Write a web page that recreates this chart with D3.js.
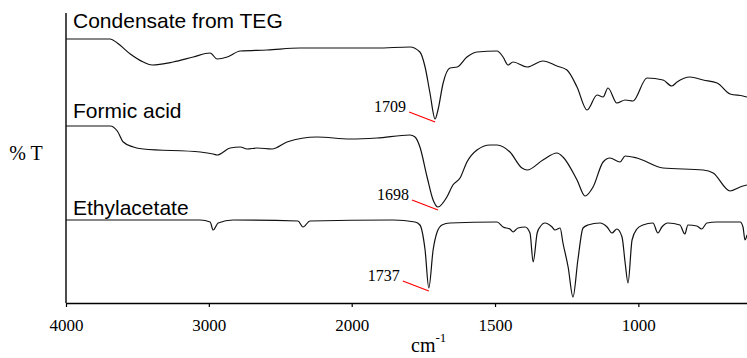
<!DOCTYPE html>
<html>
<head>
<meta charset="utf-8">
<script src="https://cdn.jsdelivr.net/npm/d3@7"></script>
<style>
  html, body { margin: 0; padding: 0; background: #fff; }
  svg { display: block; }
</style>
</head>
<body>
<svg id="chart" width="747" height="358"></svg>
<script>
// IR spectra: [wavenumber cm-1, transmittance (arbitrary, stacked)]
const condensate = [
  [4000, 264], [3690, 264], [3641, 260], [3550, 249], [3459, 241], [3397, 238],
  [3250, 241], [3109, 246], [2991, 250], [2942, 244], [2871, 246], [2780, 252],
  [2592, 253], [2362, 255], [2131, 255], [1912, 255], [1797, 256], [1762, 251],
  [1744, 236], [1727, 210], [1709, 184], [1699, 193], [1681, 220], [1657, 235],
  [1632, 236], [1598, 246], [1563, 251], [1493, 252], [1472, 246], [1455, 238],
  [1437, 241], [1388, 236], [1333, 242], [1284, 237], [1249, 233], [1214, 216],
  [1179, 193], [1144, 208], [1123, 206], [1106, 215], [1075, 200], [1046, 203],
  [1019, 202], [970, 225], [914, 223], [883, 217], [865, 221], [820, 226],
  [774, 223], [725, 220], [680, 209], [635, 207], [621, 206]
];
const formic = [
  [4000, 177], [3690, 177], [3641, 172], [3599, 161], [3529, 156], [3459, 154],
  [3060, 151], [2970, 149], [2942, 148], [2851, 155], [2780, 156], [2732, 154],
  [2662, 155], [2557, 154], [2453, 161], [2243, 166], [2012, 164], [1912, 165],
  [1797, 168], [1779, 166], [1762, 156], [1737, 126], [1716, 103], [1699, 96],
  [1668, 106], [1647, 118], [1622, 125], [1598, 141], [1563, 153], [1517, 158],
  [1493, 158], [1448, 151], [1406, 135], [1388, 133], [1333, 143], [1284, 150],
  [1263, 146], [1214, 123], [1186, 107], [1158, 116], [1123, 141], [1099, 145],
  [1064, 141], [1046, 147], [1005, 145], [914, 135], [774, 133], [739, 130],
  [680, 112], [645, 116], [621, 118]
];
const ethylacetate = [
  [4000, 83], [3061, 83], [2991, 81], [2970, 73], [2935, 80], [2830, 83],
  [2376, 82], [2341, 76], [2292, 82], [1856, 83], [1779, 81], [1762, 78],
  [1744, 53], [1731, 15], [1716, 53], [1702, 71], [1685, 78], [1657, 80],
  [1493, 81], [1472, 76], [1448, 74], [1437, 71], [1420, 75], [1395, 76],
  [1378, 70], [1367, 41], [1353, 70], [1343, 76], [1326, 80], [1301, 76],
  [1291, 73], [1273, 75], [1263, 60], [1245, 36], [1228, 6], [1211, 43],
  [1193, 75], [1176, 78], [1134, 80], [1109, 76], [1092, 70], [1075, 74],
  [1057, 66], [1046, 40], [1036, 20], [1022, 63], [1005, 74], [984, 78],
  [949, 80], [932, 70], [918, 76], [897, 80], [855, 78], [838, 69],
  [827, 78], [796, 77], [779, 74], [761, 80], [726, 81], [645, 81],
  [635, 76], [628, 63], [621, 68]
];

const seriesNames = ["Condensate from TEG", "Formic acid", "Ethylacetate"];
const seriesData = [condensate, formic, ethylacetate];
const labelLevels = [275, 185, 88];      // transmittance level of each series title

// peak annotations: [label, wavenumber, transmittance]
const peaks = [["1709", 1709, 184], ["1698", 1699, 96], ["1737", 1731, 15]];

const xTicks = [4000, 3000, 2000, 1500, 1000];

const svg = d3.select("#chart");
const W = 747, H = 358;
const margin = { left: 66, right: 0, top: 13, bottom: 55 };
const plotBottom = H - margin.bottom;
const serif = "'Liberation Serif', 'Times New Roman', serif";

// spectrum is expanded 2x below 2000 cm-1
const x = d3.scaleLinear().domain([4000, 2000, 621]).range([margin.left, 351.7, W]);
const y = d3.scaleLinear().domain([0, 290]).range([plotBottom, margin.top]);

// Bottom axis
const xAxis = d3.axisBottom(x).tickValues(xTicks).tickSize(4).tickSizeOuter(0)
  .tickFormat(d3.format("d"));
const gx = svg.append("g").attr("transform", `translate(0,${plotBottom})`).call(xAxis);
gx.select(".domain").attr("stroke", "#000").attr("stroke-width", 1.4);
gx.selectAll(".tick line").attr("stroke", "#000").attr("stroke-width", 1.2);
gx.selectAll(".tick text").attr("font-family", serif)
  .attr("font-size", 17).attr("fill", "#000").attr("y", 11).attr("dy", "1em");

// Left axis line
svg.append("line").attr("x1", margin.left).attr("x2", margin.left)
  .attr("y1", margin.top).attr("y2", plotBottom)
  .attr("stroke", "#000").attr("stroke-width", 1.4);

// Spectra
const line = d3.line().x(d => x(d[0])).y(d => y(d[1])).curve(d3.curveMonotoneX);
seriesData.forEach(s => {
  svg.append("path").datum(s).attr("d", line)
    .attr("fill", "none").attr("stroke", "#111").attr("stroke-width", 1.2);
});

// Series titles
seriesNames.forEach((name, i) => {
  svg.append("text").attr("x", margin.left + 7).attr("y", y(labelLevels[i]))
    .attr("font-family", "'Liberation Sans', Arial, sans-serif").attr("font-size", 21)
    .attr("fill", "#000").text(name);
});

// Peak annotations
peaks.forEach(([label, w, t]) => {
  const px = x(w), py = y(t) + 3;
  const sx = px - 26, sy = py - 10;
  svg.append("line").attr("x1", sx).attr("y1", sy).attr("x2", px).attr("y2", py)
    .attr("stroke", "#ff0000").attr("stroke-width", 1.3);
  svg.append("text").attr("x", sx - 3).attr("y", sy)
    .attr("text-anchor", "end")
    .attr("font-family", serif).attr("font-size", 16)
    .attr("fill", "#000").text(label);
});

// Axis titles
svg.append("text").attr("x", 26).attr("y", 160).attr("text-anchor", "middle")
  .attr("font-family", serif).attr("font-size", 20)
  .attr("fill", "#000").text("% T");

const cm = svg.append("text").attr("x", 411).attr("y", 352)
  .attr("font-family", serif).attr("font-size", 20)
  .attr("fill", "#000");
cm.append("tspan").text("cm");
cm.append("tspan").attr("dy", -10).attr("font-size", 13).text("-1");
</script>
</body>
</html>
